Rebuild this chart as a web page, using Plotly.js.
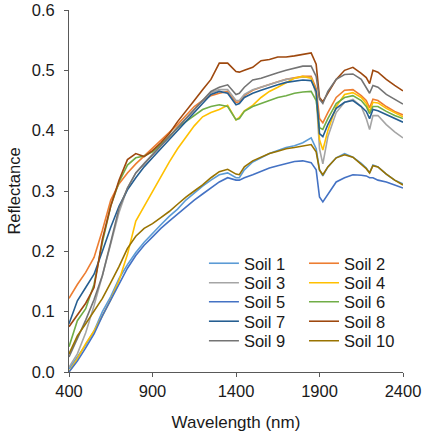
<!DOCTYPE html>
<html>
<head>
<meta charset="utf-8">
<script src="https://cdn.plot.ly/plotly-3.0.1.min.js"></script>
<style>
html,body{margin:0;padding:0;background:#fff;}
#chart{width:424px;height:435px;}
</style>
</head>
<body>
<div id="chart"></div>
<script>
// Wavelength grid (nm)
const wavelength = [400,450,500,550,600,650,700,750,800,850,900,950,1000,1050,1100,1150,1200,1250,1300,1350,1400,1420,1450,1500,1550,1600,1650,1700,1750,1800,1850,1880,1900,1920,1950,2000,2050,2100,2150,2180,2200,2220,2250,2300,2350,2400];

const soil1 = [0.005,0.025,0.045,0.068,0.1,0.125,0.155,0.178,0.198,0.215,0.23,0.244,0.258,0.27,0.285,0.297,0.308,0.318,0.327,0.33,0.322,0.322,0.335,0.348,0.355,0.362,0.367,0.372,0.375,0.38,0.388,0.37,0.335,0.325,0.34,0.355,0.362,0.356,0.346,0.338,0.33,0.343,0.34,0.328,0.318,0.312];
const soil2 = [0.122,0.145,0.165,0.19,0.235,0.285,0.312,0.33,0.345,0.358,0.37,0.383,0.396,0.41,0.425,0.44,0.45,0.458,0.462,0.465,0.447,0.448,0.458,0.467,0.472,0.477,0.481,0.485,0.488,0.49,0.49,0.47,0.42,0.413,0.43,0.455,0.467,0.468,0.458,0.45,0.438,0.452,0.45,0.44,0.432,0.426];
const soil3 = [0.008,0.03,0.065,0.11,0.16,0.215,0.265,0.305,0.33,0.346,0.36,0.375,0.39,0.405,0.42,0.435,0.45,0.463,0.468,0.468,0.45,0.45,0.46,0.468,0.472,0.477,0.481,0.485,0.487,0.489,0.488,0.46,0.37,0.345,0.39,0.43,0.447,0.452,0.44,0.42,0.402,0.425,0.425,0.41,0.398,0.388];
const soil4 = [0.0,0.022,0.047,0.068,0.093,0.12,0.152,0.195,0.25,0.275,0.3,0.323,0.348,0.37,0.39,0.408,0.423,0.43,0.435,0.442,0.418,0.422,0.433,0.442,0.455,0.465,0.472,0.48,0.487,0.49,0.487,0.465,0.385,0.368,0.4,0.44,0.46,0.463,0.455,0.445,0.432,0.447,0.446,0.437,0.43,0.423];
const soil5 = [0.0,0.018,0.04,0.063,0.093,0.12,0.145,0.172,0.193,0.21,0.224,0.238,0.25,0.262,0.274,0.285,0.295,0.305,0.315,0.322,0.318,0.318,0.322,0.327,0.333,0.338,0.342,0.345,0.349,0.35,0.347,0.335,0.29,0.282,0.295,0.315,0.322,0.327,0.326,0.325,0.322,0.322,0.318,0.315,0.31,0.305];
const soil6 = [0.042,0.085,0.105,0.145,0.215,0.275,0.315,0.343,0.355,0.358,0.365,0.378,0.39,0.405,0.415,0.425,0.435,0.44,0.443,0.44,0.418,0.42,0.432,0.44,0.445,0.45,0.455,0.458,0.462,0.464,0.465,0.45,0.405,0.402,0.42,0.445,0.455,0.458,0.45,0.44,0.428,0.44,0.44,0.432,0.425,0.42];
const soil7 = [0.08,0.118,0.14,0.162,0.2,0.24,0.275,0.302,0.322,0.34,0.355,0.37,0.385,0.4,0.415,0.43,0.445,0.46,0.465,0.462,0.443,0.445,0.455,0.462,0.467,0.472,0.476,0.48,0.482,0.484,0.483,0.465,0.395,0.39,0.41,0.437,0.447,0.45,0.44,0.432,0.42,0.435,0.433,0.427,0.42,0.414];
const soil8 = [0.075,0.095,0.114,0.14,0.22,0.275,0.318,0.352,0.362,0.357,0.367,0.38,0.395,0.415,0.432,0.45,0.468,0.485,0.512,0.512,0.498,0.497,0.5,0.505,0.516,0.518,0.522,0.522,0.524,0.527,0.529,0.51,0.455,0.448,0.462,0.485,0.5,0.505,0.495,0.488,0.478,0.5,0.497,0.485,0.475,0.466];
const soil9 = [0.025,0.055,0.086,0.12,0.16,0.215,0.272,0.305,0.33,0.345,0.36,0.375,0.39,0.405,0.42,0.435,0.45,0.465,0.472,0.476,0.46,0.462,0.472,0.484,0.487,0.492,0.496,0.5,0.503,0.507,0.507,0.49,0.452,0.445,0.465,0.485,0.493,0.494,0.485,0.472,0.462,0.475,0.472,0.46,0.452,0.444];
const soil10 = [0.03,0.06,0.08,0.1,0.122,0.148,0.175,0.205,0.225,0.238,0.246,0.256,0.266,0.278,0.29,0.3,0.31,0.322,0.332,0.336,0.328,0.327,0.34,0.35,0.356,0.362,0.366,0.37,0.372,0.375,0.377,0.365,0.335,0.327,0.34,0.355,0.36,0.356,0.345,0.337,0.33,0.342,0.34,0.328,0.318,0.31];

const seriesNames = ["Soil 1","Soil 2","Soil 3","Soil 4","Soil 5","Soil 6","Soil 7","Soil 8","Soil 9","Soil 10"];
const seriesValues = [soil1,soil2,soil3,soil4,soil5,soil6,soil7,soil8,soil9,soil10];
const xTickVals = [400,900,1400,1900,2400];
const yTickVals = [0,0.1,0.2,0.3,0.4,0.5,0.6];

const colors = ["#5B9BD5","#ED7D31","#A5A5A5","#FFC000","#4472C4","#70AD47","#255E91","#9E480E","#747474","#997300"];
const FONT = "Liberation Sans, Arial, sans-serif";
const TXT = "#1a1a1a";

const colX = [0.404, 0.7036];
const rowY = [0.2997, 0.2459, 0.1934, 0.1395, 0.0856];

const traces = seriesNames.map((n, i) => ({
  type: "scatter",
  mode: "lines",
  name: n,
  x: wavelength,
  y: seriesValues[i],
  line: {color: colors[i], width: 1.6},
  legend: i === 0 ? "legend" : "legend" + (i + 1),
  showlegend: true,
  hoverinfo: "skip"
}));

const layout = {
  width: 424,
  height: 435,
  margin: {l: 69, r: 21, t: 10, b: 63},
  paper_bgcolor: "#fff",
  plot_bgcolor: "#fff",
  font: {family: FONT, size: 16.5, color: TXT},
  showlegend: true,
  xaxis: {
    range: [400, 2400],
    tickvals: xTickVals,
    ticktext: xTickVals.map(String),
    ticks: "outside",
    ticklen: 4,
    tickcolor: "#595959",
    showline: true,
    linecolor: "#595959",
    linewidth: 1,
    showgrid: false,
    zeroline: false,
    tickfont: {family: FONT, size: 16.5, color: TXT},
    title: {text: "Wavelength (nm)", font: {family: FONT, size: 17, color: TXT}, standoff: 17}
  },
  yaxis: {
    range: [0, 0.6],
    tickvals: yTickVals,
    ticktext: yTickVals.map(v => v.toFixed(1)),
    ticks: "outside",
    ticklen: 4,
    tickcolor: "#595959",
    ticklabelstandoff: 6,
    showline: true,
    linecolor: "#595959",
    linewidth: 1,
    showgrid: false,
    zeroline: false,
    tickfont: {family: FONT, size: 16.5, color: TXT},
    title: {text: "Reflectance", font: {family: FONT, size: 16.5, color: TXT}, standoff: 6}
  }
};

seriesNames.forEach((n, i) => {
  const key = i === 0 ? "legend" : "legend" + (i + 1);
  layout[key] = {
    x: colX[i % 2],
    y: rowY[Math.floor(i / 2)],
    xanchor: "left",
    yanchor: "middle",
    bgcolor: "rgba(0,0,0,0)",
    borderwidth: 0,
    font: {family: FONT, size: 16.5, color: TXT},
    itemclick: false,
    itemdoubleclick: false
  };
});

Plotly.newPlot("chart", traces, layout, {staticPlot: true, displayModeBar: false});
</script>
</body>
</html>
